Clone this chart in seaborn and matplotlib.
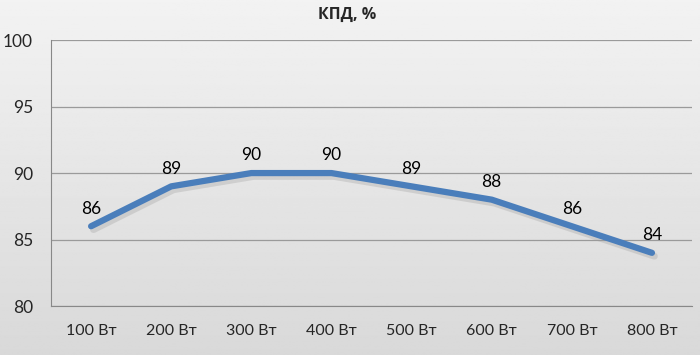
import matplotlib.pyplot as plt
import seaborn as sns
import numpy as np

categories = ['100 Вт', '200 Вт', '300 Вт', '400 Вт', '500 Вт', '600 Вт', '700 Вт', '800 Вт']
efficiency = [86, 89, 90, 90, 89, 88, 86, 84]
y_ticks = [80, 85, 90, 95, 100]

sns.set_style('white')
plt.rcParams['font.family'] = ['Lato', 'DejaVu Sans']

fig = plt.figure(figsize=(7, 3.55), dpi=100)

# gradient background
bg = fig.add_axes([0, 0, 1, 1], zorder=0)
grad = np.linspace(0.95, 0.85, 256).reshape(-1, 1)
bg.imshow(np.repeat(grad, 2, axis=1), cmap='gray', vmin=0, vmax=1, aspect='auto', extent=[0, 1, 0, 1])
bg.axis('off')

ax = fig.add_axes([0.0729, 0.138, 0.9157, 0.749], zorder=1)
ax.patch.set_alpha(0)

x = np.arange(len(categories))
# soft shadow
ax.plot(x + 0.03, np.array(efficiency) - 0.25, color='#9a9a9a', lw=5, alpha=0.3, solid_capstyle='round', zorder=2)
sns.lineplot(x=x, y=efficiency, ax=ax, color='#4A7EBB', linewidth=4.5, zorder=3)
for line in ax.lines:
    line.set_solid_capstyle('round')
    line.set_solid_joinstyle('round')

for xi, v in zip(x, efficiency):
    ax.annotate(str(v), (xi, v), xytext=(0, 7), textcoords='offset points',
                ha='center', va='bottom', fontsize=12.5, color='black')

ax.set_xlim(-0.5, len(categories) - 0.5)
ax.set_ylim(80, 100)
ax.set_yticks(y_ticks)
ax.set_yticklabels([str(t) for t in y_ticks], fontsize=12.5)
ax.set_xticks(x)
ax.set_xticklabels(categories, fontsize=11.5)
ax.set_xticks(np.arange(-0.5, len(categories)), minor=True)
ax.tick_params(axis='x', which='major', length=0, pad=13)
ax.tick_params(axis='x', which='minor', length=5, color='#888888', width=0.8)
ax.tick_params(axis='y', length=5, color='#888888', width=0.8, pad=8)
ax.grid(axis='y', color='#9a9a9a', linewidth=0.9)
ax.set_axisbelow(True)
for s in ['top', 'right']:
    ax.spines[s].set_visible(False)
for s in ['left', 'bottom']:
    ax.spines[s].set_color('#888888')
    ax.spines[s].set_linewidth(0.8)
ax.set_xlabel('')
ax.set_ylabel('')

fig.text(0.496, 0.958, 'КПД, %', ha='center', va='center', fontsize=11.5,
         fontweight='bold', family=['Open Sans', 'DejaVu Sans'])

fig.savefig('out.png', dpi=100)
